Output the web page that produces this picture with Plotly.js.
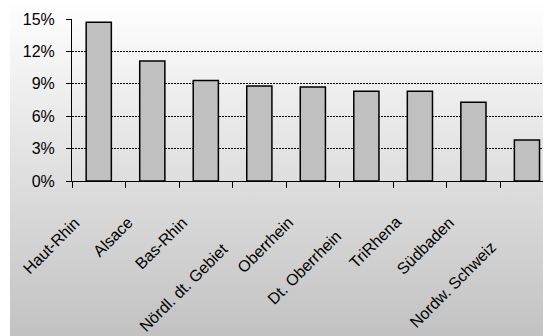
<!DOCTYPE html>
<html>
<head>
<meta charset="utf-8">
<script src="https://cdn.plot.ly/plotly-3.0.1.min.js"></script>
<style>
  html, body { margin: 0; padding: 0; background: #ffffff; }
  #chart {
    width: 543px; height: 336px;
    background: linear-gradient(#ffffff, #c2c2c2) 10px 0 / 533px 336px no-repeat, #ffffff;
  }
</style>
</head>
<body>
<div id="chart"></div>
<script>
// Regions of the Upper Rhine area
var regions = ['Haut-Rhin', 'Alsace', 'Bas-Rhin', 'Nördl. dt. Gebiet', 'Oberrhein',
               'Dt. Oberrhein', 'TriRhena', 'Südbaden', 'Nordw. Schweiz'];
// Share per region, in percent
var shares = [14.7, 11.1, 9.3, 8.8, 8.7, 8.3, 8.3, 7.3, 3.8];
// Value-axis ticks
var yTickValues = [0, 3, 6, 9, 12, 15];
var yTickLabels = ['0%', '3%', '6%', '9%', '12%', '15%'];

var FONT = 'Arial, "Liberation Sans", sans-serif';

// Measure label width so longer labels sit a little lower and further left
var ctx = document.createElement('canvas').getContext('2d');
ctx.font = '16px ' + FONT;

var labelAnnotations = regions.map(function (name) {
  var w = ctx.measureText(name).width;
  var extra = Math.max(0, w - 75);
  return {
    x: name, xref: 'x', y: 0, yref: 'y',
    text: name, showarrow: false, textangle: -45,
    xanchor: 'right', yanchor: 'top',
    xshift: -13 - 0.3 * extra, yshift: -30 - 0.63 * extra,
    font: {family: FONT, size: 16, color: '#000000'}
  };
});

var trace = {
  type: 'bar',
  x: regions,
  y: shares,
  width: 0.47,
  marker: {color: '#c0c0c0', line: {color: '#000000', width: 1.5}},
  hoverinfo: 'skip'
};

var layout = {
  width: 543, height: 336,
  margin: {l: 72, r: 0, t: 19, b: 155, pad: 0},
  paper_bgcolor: 'rgba(0,0,0,0)',
  plot_bgcolor: 'rgba(0,0,0,0)',
  showlegend: false,
  font: {family: FONT, size: 16, color: '#000000'},
  xaxis: {
    type: 'category',
    range: [-0.5, 8.3],
    showline: true, linecolor: '#000000', linewidth: 1,
    ticks: 'outside', tickson: 'boundaries', ticklen: 6, tickcolor: '#000000', tickwidth: 1,
    showticklabels: false,
    showgrid: false, zeroline: false, fixedrange: true
  },
  yaxis: {
    range: [0, 15],
    tickvals: yTickValues, ticktext: yTickLabels,
    showline: true, linecolor: '#000000', linewidth: 1,
    ticks: 'outside', ticklen: 5, tickcolor: '#000000', tickwidth: 1,
    ticklabelstandoff: 8,
    tickfont: {family: FONT, size: 16, color: '#000000'},
    showgrid: true, gridcolor: '#000000', gridwidth: 1, griddash: '2px,1px',
    zeroline: false, fixedrange: true
  },
  annotations: labelAnnotations
};

Plotly.newPlot('chart', [trace], layout, {displayModeBar: false, staticPlot: true});
</script>
</body>
</html>
